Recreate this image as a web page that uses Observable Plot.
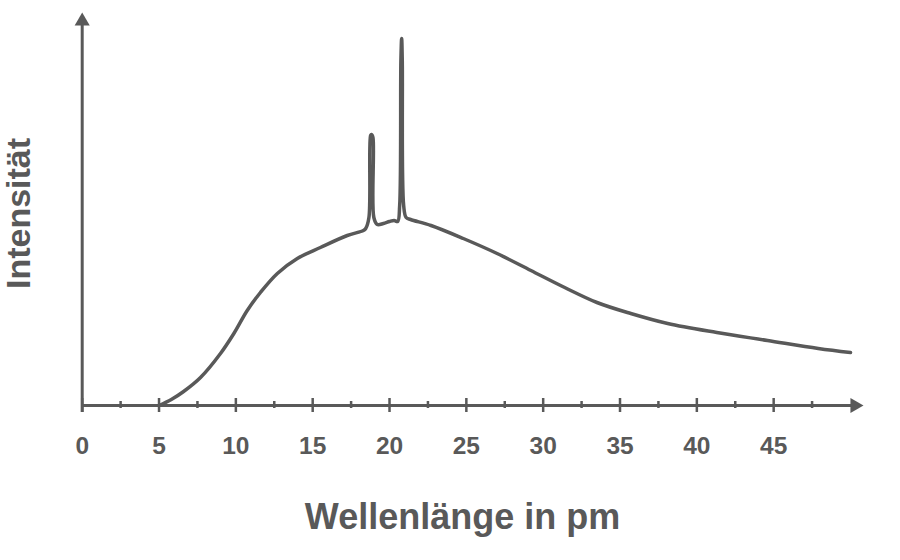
<!DOCTYPE html>
<html>
<head>
<meta charset="utf-8">
<script src="https://cdn.jsdelivr.net/npm/d3@7"></script>
<script src="https://cdn.jsdelivr.net/npm/@observablehq/plot@0.6"></script>
<style>
  html, body { margin: 0; padding: 0; background: #fff; }
  #chart svg { display: block; }
</style>
</head>
<body>
<div id="chart"></div>
<script>
// Wavelength (pm) and intensity (arbitrary units)
const wavelength = [5, 5.8, 6.6, 7.7, 9.0, 9.87, 10.74, 11.6, 12.7, 14.0, 15.5, 17.25, 18.3, 18.45,
  18.66, 18.77, 18.83, 18.92, 18.98, 19.2, 19.6, 20.0, 20.3, 20.53, 20.66, 20.74, 20.79, 20.83,
  20.92, 21.08, 21.37, 22.7, 24.8, 27, 29.2, 31.4, 33.5, 35.7, 38.1, 41.3, 44.6, 47.9, 50];
const intensity = [0, 6, 14, 28, 52, 72, 95, 113, 132, 147, 158, 170, 175, 177,
  188, 270, 271, 268, 188, 181, 182, 184, 185, 184, 200, 345, 367, 345,
  200, 188, 186, 180, 167, 152, 135, 118, 103, 92, 82, 73, 65, 57, 53];
const majorTicks = [0, 5, 10, 15, 20, 25, 30, 35, 40, 45];
const minorTicks = [2.5, 7.5, 12.5, 17.5, 22.5, 27.5, 32.5, 37.5, 42.5, 47.5];
const tickLabels = ["0", "5", "10", "15", "20", "25", "30", "35", "40", "45"];
const xLabel = "Wellenlänge in pm";
const yLabel = "Intensität";

const spectrum = wavelength.map((w, i) => ({w, v: intensity[i]}));
const labels = majorTicks.map((t, i) => ({t, s: tickLabels[i]}));

const gray = "#595959";
const font = "'Liberation Sans', Arial, sans-serif";

const chart = Plot.plot({
  width: 900,
  height: 560,
  margin: 0,
  style: {fontFamily: font, background: "#fff"},
  x: {domain: [0, 50], range: [81.7, 850], axis: null},
  y: {domain: [0, 393], range: [405, 12], axis: null},
  marks: [
    // x axis line
    Plot.ruleY([0], {x1: 0, x2: 50.3, stroke: gray, strokeWidth: 3}),
    // y axis line
    Plot.ruleX([0], {y1: -7, y2: 380, stroke: gray, strokeWidth: 3}),
    // major ticks
    Plot.ruleX(majorTicks, {y1: -7, y2: 7, stroke: gray, strokeWidth: 2.5}),
    // minor ticks
    Plot.ruleX(minorTicks, {y1: -3, y2: 4, stroke: gray, strokeWidth: 2.5}),
    // arrow heads
    Plot.dot([0], {x: 0, y: 384.3, symbol: "triangle", r: 5.6, fill: gray, stroke: null}),
    Plot.dot([0], {x: 50.28, y: 0, symbol: "triangle", r: 5.6, fill: gray, stroke: null, rotate: 90}),
    // spectrum
    Plot.line(spectrum, {x: "w", y: "v", curve: "catmull-rom", stroke: gray, strokeWidth: 3.5, strokeLinejoin: "round", strokeLinecap: "round"}),
    // tick labels
    Plot.text(labels, {x: "t", y: 0, text: "s", dy: 41, fill: gray, fontSize: 24.5, fontWeight: "bold", textAnchor: "middle"}),
    // axis titles
    Plot.text([xLabel], {frameAnchor: "bottom", text: d => d, dx: 12, dy: -32, fill: gray, fontSize: 36, fontWeight: "bold", textAnchor: "middle"}),
    Plot.text([yLabel], {frameAnchor: "left", text: d => d, dx: 19, dy: -67, rotate: -90, fill: gray, fontSize: 34, fontWeight: "bold", textAnchor: "middle"})
  ]
});
document.getElementById("chart").appendChild(chart);
</script>
</body>
</html>
